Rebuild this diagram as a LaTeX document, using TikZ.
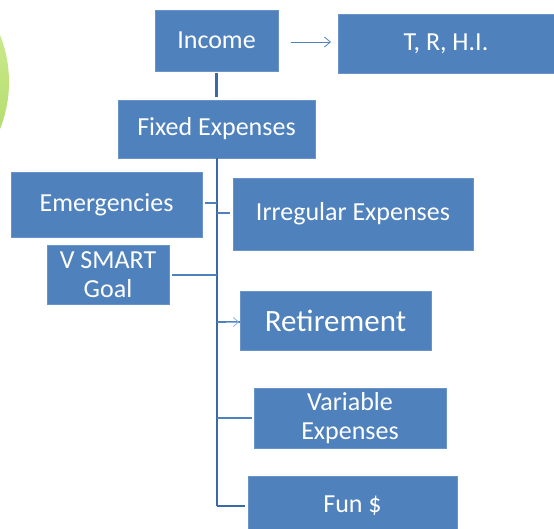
\documentclass[tikz,border=0pt]{standalone}
\usepackage{fontspec}
\setmainfont{Carlito}
\usetikzlibrary{arrows.meta}
\definecolor{boxblue}{HTML}{4F81BD}
\definecolor{trunkblue}{HTML}{3B68A8}
\definecolor{tipblue}{HTML}{8EB0DC}
\definecolor{greenlight}{HTML}{DAF3A0}
\definecolor{greendark}{HTML}{A5D35A}
\tikzset{
  box/.style={rectangle, fill=boxblue, draw=boxblue!85!white, line width=0.6pt,
    text=white, inner sep=0pt, outer sep=0pt, align=center,
    font=\fontsize{26}{29}\selectfont},
  trunk/.style={draw=trunkblue, line width=2.6pt},
  branch/.style={draw=boxblue, line width=2pt},
}
\begin{document}
\begin{tikzpicture}[x=1pt,y=-1pt]
  \useasboundingbox (0,0) rectangle (554,529);
  \clip (0,0) rectangle (554,529);
  % decorative disc at the left edge
  \shade[top color=greenlight, bottom color=greendark] (-118,82) circle (127);

  % boxes
  \node[box, minimum width=123, minimum height=61] (income) at (216.5,40.5) {Income};
  \node[box, minimum width=216, minimum height=59] (trhi) at (446,43.5) {T, R, H.I.};
  \node[box, minimum width=197, minimum height=58] (fixed) at (216.5,129) {Fixed Expenses};
  \node[box, minimum width=191, minimum height=65] (emerg) at (106.5,204.5) {Emergencies};
  \node[box, minimum width=240, minimum height=72] (irreg) at (353,214) {Irregular Expenses};
  \node[box, minimum width=122, minimum height=59] (vsmart) at (108,274.5) {V SMART\\Goal};
  \node[box, minimum width=191, minimum height=59, font=\fontsize{31}{34}\selectfont] (retire) at (335.5,320.5) {Retirement};
  \node[box, minimum width=192, minimum height=60] (variable) at (350,418) {Variable\\Expenses};
  \node[box, minimum width=209, minimum height=60] (fun) at (352.5,506) {Fun \$};

  % trunk and its joints
  \coordinate (top) at (217,158);
  \coordinate (jemerg) at (217,203);
  \coordinate (jirreg) at (217,213);
  \coordinate (jvsmart) at (217,275);
  \coordinate (jretire) at (217,322);
  \coordinate (jvariable) at (217,418);
  \coordinate (bottom) at (217,506);

  \draw[trunk] ([yshift=-2]income.south) -- ([yshift=3]fixed.north);
  \draw[trunk] (top) -- (bottom);

  % income to T, R, H.I.
  \coordinate (astart) at (291,42);
  \coordinate (aend) at (331,42);
  \draw[draw=boxblue, line width=0.8pt, -{Straight Barb[length=6pt,width=10pt]}] (astart) -- (aend);

  % branches
  \draw[branch] ([xshift=3]emerg.east |- jemerg) -- (jemerg);
  \draw[branch] (jirreg) -- ([xshift=-3]irreg.west |- jirreg);
  \draw[branch] ([xshift=3]vsmart.east |- jvsmart) -- (jvsmart);
  \draw[branch] (jretire) -- (retire.west |- jretire);
  \draw[draw=tipblue, line width=0.8pt, -{Straight Barb[length=5pt,width=9pt]}] ([xshift=-14]retire.west |- jretire) -- ([xshift=-1]retire.west |- jretire);
  \draw[branch] (jvariable) -- ([xshift=-2]variable.west |- jvariable);
  \draw[trunk] (bottom) -- ([xshift=-3]fun.west |- bottom);
\end{tikzpicture}
\end{document}
